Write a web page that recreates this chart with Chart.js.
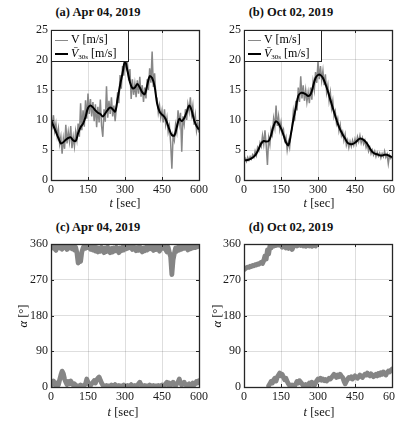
<!DOCTYPE html>
<html>
<head>
<meta charset="utf-8">
<script src="https://cdn.jsdelivr.net/npm/chart.js@4.4.1/dist/chart.umd.min.js"></script>
<style>
  html, body { margin: 0; padding: 0; background: #fff; overflow: hidden; }
  body { width: 395px; height: 423px; position: relative;
         font-family: "Liberation Serif", "Times New Roman", serif; color: #111; }
  canvas { position: absolute; }
  .ttl { position: absolute; font-weight: bold; font-size: 12.5px; line-height: 16px;
         white-space: nowrap; transform: translateX(-50%); }
  .xl  { position: absolute; font-size: 12.5px; line-height: 16px; white-space: nowrap;
         transform: translateX(-50%); }
  .yl  { position: absolute; font-size: 12.5px; line-height: 16px; white-space: nowrap;
         transform: translate(-50%, -50%) rotate(-90deg); }
  .leg { position: absolute; width: 78px; height: 32px; background: #fff;
         border: 1px solid #222; box-sizing: border-box; font-size: 12px; color: #000;
         will-change: transform; }
  .leg .row { position: absolute; left: 3px; height: 14px; line-height: 14px; white-space: nowrap; }
  .leg .smp { display: inline-block; width: 13px; vertical-align: middle; margin-right: 3px; }
  .leg sub { font-size: 7px; vertical-align: -2px; }
</style>
</head>
<body>

<div class="ttl" style="left:98px; top:4px;">(a) Apr 04, 2019</div>
<div class="ttl" style="left:291px; top:4px;">(b) Oct 02, 2019</div>
<div class="ttl" style="left:98px; top:219px;">(c) Apr 04, 2019</div>
<div class="ttl" style="left:291px; top:219px;">(d) Oct 02, 2019</div>

<canvas id="chartA"></canvas>
<canvas id="chartB"></canvas>
<canvas id="chartC"></canvas>
<canvas id="chartD"></canvas>

<div class="leg" style="left:51px; top:30px;">
  <div class="row" style="top:1px;"><span class="smp" style="border-top:1.5px solid #8a8a8a;"></span>V [m/s]</div>
  <div class="row" style="top:15px;"><span class="smp" style="border-top:2px solid #000;"></span><i>V̄</i><sub>30s</sub> [m/s]</div>
</div>
<div class="leg" style="left:244px; top:30px;">
  <div class="row" style="top:1px;"><span class="smp" style="border-top:1.5px solid #8a8a8a;"></span>V [m/s]</div>
  <div class="row" style="top:15px;"><span class="smp" style="border-top:2px solid #000;"></span><i>V̄</i><sub>30s</sub> [m/s]</div>
</div>

<div class="xl" style="left:125px; top:195px;"><i>t</i> [sec]</div>
<div class="xl" style="left:319px; top:195px;"><i>t</i> [sec]</div>
<div class="xl" style="left:123px; top:404px;"><i>t</i> [sec]</div>
<div class="xl" style="left:319px; top:404px;"><i>t</i> [sec]</div>
<div class="yl" style="left:23px; top:316px;"><i>α</i> [°]</div>
<div class="yl" style="left:217px; top:316px;"><i>α</i> [°]</div>

<script>
// ── Data ─────────────────────────────────────
// raw speed sampled every 5 s, 30 s mean every 10 s, direction every 5 s
const RAW_STEP  = 5;
const MEAN_STEP = 10;

const X_TICKS     = [0, 150, 300, 450, 600];
const SPEED_TICKS = [0, 5, 10, 15, 20, 25];
const DIR_TICKS   = [0, 90, 180, 270, 360];

// (a) Apr 04, 2019 — wind speed [m/s]
const speedApr = [
  10.4, 9.1, 10.8, 8.2, 9.4, 7.3, 8.6, 6.0, 7.2, 4.4,
  6.9, 5.2, 9.2, 6.1, 8.0, 6.4, 9.0, 5.3, 7.2, 5.6,
  8.1, 6.7, 9.4, 7.2, 12.8, 8.3, 11.6, 8.9, 13.3, 10.2,
  14.4, 11.0, 13.5, 10.6, 13.0, 9.8, 12.6, 8.8, 12.2, 9.6,
  13.4, 9.0, 7.2, 11.8, 9.7, 15.6, 10.4, 13.2, 11.0, 13.8,
  10.6, 12.4, 9.8, 12.0, 14.6, 12.8, 17.5, 15.2, 19.0, 17.4,
  20.4, 18.6, 19.4, 16.6, 18.5, 13.5, 16.8, 14.2, 16.0, 13.8,
  16.6, 14.4, 17.2, 13.9, 15.8, 13.0, 15.4, 13.6, 16.8, 15.0,
  18.6, 16.2, 21.4, 15.5, 17.8, 14.0, 13.6, 11.2, 12.4, 10.4,
  11.6, 9.6, 11.8, 9.2, 10.4, 8.0, 9.0, 6.2, 1.9, 7.4,
  6.6, 9.2, 8.0, 11.6, 9.4, 11.2, 4.7, 10.6, 9.3, 11.8,
  10.0, 12.6, 11.4, 13.8, 11.0, 12.4, 9.2, 10.8, 8.2, 9.4,
  7.9
];
const meanApr = [
  10.0, 9.0, 8.0, 7.0, 6.1, 6.3, 6.7, 7.0, 7.1, 6.6,
  6.5, 7.8, 8.8, 9.4, 10.5, 12.0, 12.4, 12.1, 11.6, 11.2,
  11.0, 10.6, 11.1, 11.7, 12.1, 11.8, 11.4, 13.5, 15.8, 17.8,
  19.8, 18.2, 16.3, 15.3, 15.4, 16.0, 15.4, 14.6, 14.3, 15.8,
  17.3, 17.0, 15.6, 12.8, 11.4, 10.9, 10.5, 9.6, 8.4, 7.5,
  7.4, 8.8, 10.2, 9.8, 10.3, 11.3, 12.4, 11.6, 10.0, 9.0,
  8.4
];

// (b) Oct 02, 2019 — wind speed [m/s]
const speedOct = [
  3.2, 3.6, 3.1, 3.8, 3.3, 3.9, 3.5, 4.2, 3.8, 4.8,
  4.1, 5.4, 4.9, 6.2, 5.6, 7.4, 6.0, 8.3, 5.8, 2.5,
  7.0, 5.9, 8.4, 7.6, 10.2, 8.8, 12.4, 9.0, 10.6, 8.4,
  9.6, 7.8, 8.4, 6.6, 7.2, 5.0, 6.4, 5.4, 7.8, 8.6,
  11.4, 9.8, 13.2, 11.6, 15.4, 13.0, 17.3, 13.6, 15.8, 13.2,
  15.0, 13.0, 14.6, 12.8, 15.4, 13.4, 16.4, 15.0, 18.0, 16.2,
  19.8, 16.8, 19.0, 16.6, 18.2, 15.8, 17.6, 14.6, 15.8, 13.2,
  14.6, 12.0, 13.2, 10.6, 11.4, 9.4, 10.2, 8.2, 9.2, 7.4,
  8.0, 6.6, 7.6, 5.8, 6.6, 5.4, 6.4, 5.6, 6.6, 5.8,
  6.8, 6.0, 7.2, 6.4, 7.4, 6.2, 7.0, 6.0, 6.6, 5.4,
  6.0, 4.8, 5.4, 4.4, 5.0, 4.2, 4.8, 3.9, 4.6, 4.0,
  4.5, 3.7, 4.4, 3.9, 4.8, 3.8, 4.3, 2.7, 4.1, 3.6,
  3.9
];
const meanOct = [
  3.3, 3.3, 3.4, 3.6, 3.9, 4.4, 5.2, 6.1, 6.5, 6.4,
  6.5, 7.5, 9.0, 9.8, 9.4, 8.6, 7.5, 6.3, 5.8, 7.6,
  10.0, 12.0, 14.0, 14.5, 14.5, 14.3, 14.0, 14.3, 15.6, 17.0,
  17.5, 17.5, 17.0, 16.0, 14.8, 13.4, 12.0, 10.7, 9.4, 8.4,
  7.6, 6.9, 6.2, 6.0, 6.0, 6.2, 6.6, 6.9, 6.8, 6.5,
  6.0, 5.3, 4.7, 4.4, 4.3, 4.1, 4.1, 4.2, 4.2, 4.0,
  3.8
];

// (c) Apr 04, 2019 — direction [deg], wraps between the two bands
const dirAprHigh = [
  355, 350, 357, 348, 344, 354, 358, 350, 356, 347,
  355, 358, 351, 346, 356, 350, 357, 348, 355, 345,
  352, 338, 312, 328, 316, 340, 350, 356, 349, 357,
  351, 356, 347, 355, 345, 353, 342, 351, 340, 350,
  342, 352, 344, 338, 350, 341, 352, 343, 338, 349,
  340, 350, 343, 352, 344, 338, 350, 343, 352, 345,
  354, 348, 356, 350, 357, 351, 346, 354, 348, 343,
  351, 344, 353, 346, 340, 350, 343, 352, 345, 354,
  348, 356, 349, 344, 353, 346, 355, 348, 342, 352,
  357, 349, 355, 346, 340, 352, 338, 328, 283, 320,
  336, 350, 342, 352, 345, 354, 347, 356, 349, 357,
  350, 345, 354, 348, 356, 350, 357, 351, 358, 353,
  357
];
const dirAprLow = [
  12, 6, 15, 8, 4, 10, 5, 18, 30, 40,
  34, 20, 12, 6, 14, 8, 15, 10, 5, 8,
  4, 2, 3, 2, 5, 3, 2, 4, 8, 20,
  12, 6, 4, 8, 12, 16, 10, 18, 22, 25,
  18, 10, 5, 3, 2, 4, 2, 3, 2, 5,
  3, 2, 6, 3, 2, 4, 2, 3, 2, 5,
  3, 2, 4, 2, 3, 6, 3, 2, 4, 2,
  3, 8, 12, 6, 3, 2, 4, 2, 3, 2,
  5, 3, 2, 4, 2, 3, 2, 4, 2, 3,
  5, 2, 4, 8, 12, 6, 10, 4, 8, 12,
  6, 3, 8, 12, 20, 10, 5, 8, 12, 6,
  3, 5, 8, 4, 6, 10, 5, 8, 14, 10,
  16
];

// (d) Oct 02, 2019 — direction [deg]
const dirOctHigh = [
  295, 298, 300, 302, 301, 304, 303, 306, 305, 308,
  307, 310, 309, 312, 314, 311, 318, 330, 322, 345,
  335, 355, 350, 358, 355, 359, 356, 358, 357, 359,
  356, 352, 357, 354, 350, 353, 349, 355, 351, 346,
  353, 356, 358, 355, 357, 359, 356, 358, 355, 357,
  354, 356, 358, 355, 357, 354, 356, 358, 355
];
const dirOctLow = [
  null, null, null, null, null, null, null, null, null, null,
  null, null, null, null, null, null, null, null, null, null,
  3, 8, 14, 10, 18, 22, 15, 25, 30, 35,
  28, 32, 24, 18, 22, 14, 8, 4, 2, 5,
  3, 2, 8, 14, 10, 16, 12, 8, 4, 2,
  6, 3, 5, 10, 6, 12, 8, 4, 10, 16,
  20, 18, 22, 17, 20, 16, 19, 15, 18, 22,
  20, 24, 28, 32, 28, 24, 30, 26, 32, 27,
  24, 15, 8, 14, 20, 24, 22, 26, 20, 24,
  28, 25, 22, 26, 30, 27, 24, 28, 32, 30,
  35, 31, 28, 33, 30, 26, 29, 32, 28, 34,
  30, 36, 32, 38, 34, 30, 36, 40, 38, 42,
  45
];

// ── Helpers ──────────────────────────────────
const series = (vals, step) => vals.map((v, i) => ({ x: i * step, y: v }));

const FONT = { family: "'Liberation Serif', 'Times New Roman', serif", size: 12 };
const GRID = 'rgba(0,0,0,0.13)';

// MATLAB-ish box with inward ticks on all four sides
const frame = {
  id: 'frame',
  afterDraw(chart) {
    const { ctx, chartArea: a, scales: { x, y } } = chart;
    ctx.save();
    ctx.strokeStyle = '#262626';
    ctx.lineWidth = 1;
    ctx.beginPath();
    x.ticks.forEach(t => {
      const px = Math.round(x.getPixelForValue(t.value)) + 0.5;
      ctx.moveTo(px, a.bottom); ctx.lineTo(px, a.bottom - 3);
      ctx.moveTo(px, a.top);    ctx.lineTo(px, a.top + 3);
    });
    y.ticks.forEach(t => {
      const py = Math.round(y.getPixelForValue(t.value)) + 0.5;
      ctx.moveTo(a.left, py);  ctx.lineTo(a.left + 3, py);
      ctx.moveTo(a.right, py); ctx.lineTo(a.right - 3, py);
    });
    ctx.stroke();
    ctx.lineWidth = 1.3;
    ctx.strokeRect(Math.round(a.left) + 0.5, Math.round(a.top) + 0.5,
                   Math.round(a.right - a.left), Math.round(a.bottom - a.top));
    ctx.restore();
  }
};

// plot area: left/top in page px, 148 px wide, h px tall
function panel(id, left, top, h, yTicks, datasets) {
  const cv = document.getElementById(id);
  const W = 51 + 148 + 16, H = 30 + h + 30;
  cv.width = W; cv.height = H;
  cv.style.left = (left - 51) + 'px';
  cv.style.top  = (top - 30) + 'px';
  cv.style.width = W + 'px'; cv.style.height = H + 'px';

  return new Chart(cv, {
    type: 'line',
    data: { datasets },
    options: {
      responsive: false,
      animation: false,
      devicePixelRatio: 1,
      layout: { padding: { top: 30, right: 16, bottom: 0, left: 0 } },
      plugins: { legend: { display: false }, tooltip: { enabled: false } },
      elements: { point: { radius: 0 } },
      scales: {
        x: {
          type: 'linear', min: X_TICKS[0], max: X_TICKS[X_TICKS.length - 1],
          afterBuildTicks: s => { s.ticks = X_TICKS.map(v => ({ value: v })); },
          afterFit: s => { s.height = 30; s.paddingLeft = 0; s.paddingRight = 0; },
          grid: { color: GRID, drawTicks: false },
          border: { display: false },
          ticks: { font: FONT, color: '#1a1a1a', padding: 3, maxRotation: 0, autoSkip: false }
        },
        y: {
          type: 'linear', min: yTicks[0], max: yTicks[yTicks.length - 1],
          afterBuildTicks: s => { s.ticks = yTicks.map(v => ({ value: v })); },
          afterFit: s => { s.width = 51; s.paddingTop = 0; s.paddingBottom = 0; },
          grid: { color: GRID, drawTicks: false },
          border: { display: false },
          ticks: { font: FONT, color: '#1a1a1a', padding: 3 }
        }
      }
    },
    plugins: [frame]
  });
}

const speedSets = (raw, mean) => [
  { data: series(mean, MEAN_STEP), borderColor: '#000', borderWidth: 2,
    tension: 0.35, clip: 0 },
  { data: series(raw, RAW_STEP), borderColor: '#878787', borderWidth: 1.5,
    tension: 0, clip: 0 }
];

const dirSets = (high, low) => [high, low].map(vals => ({
  data: series(vals, RAW_STEP), borderColor: '#858585', borderWidth: 4.8,
  borderJoinStyle: 'round', borderCapStyle: 'round', spanGaps: false, tension: 0, clip: 0
}));

// ── Panels ───────────────────────────────────
panel('chartA', 51, 30, 150, SPEED_TICKS, speedSets(speedApr, meanApr));
panel('chartB', 244, 30, 150, SPEED_TICKS, speedSets(speedOct, meanOct));
panel('chartC', 51, 244, 143, DIR_TICKS, dirSets(dirAprHigh, dirAprLow));
panel('chartD', 244, 244, 143, DIR_TICKS, dirSets(dirOctHigh, dirOctLow));
</script>
</body>
</html>
